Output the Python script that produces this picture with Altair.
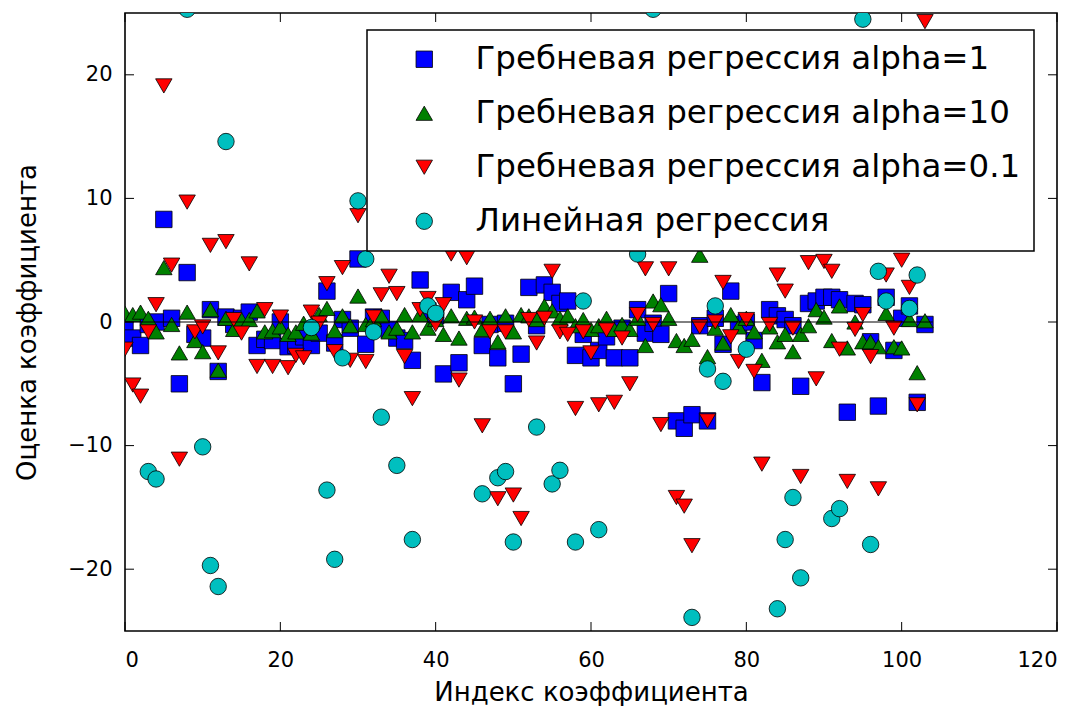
import altair as alt
import pandas as pd

# ---------------- data ----------------
ridge_a1 = [
    -0.5, -1.3, -1.9, -0.2, 0.0, 8.3, 0.3, -5.0, 4.0, -1.0,
    -1.3, 1.0, -4.0, 0.4, -0.2, 0.3, 0.8, -1.9, -1.4, -1.5,
    0.0, -2.0, -1.9, -1.2, -1.9, -0.9, 2.5, -1.7, 0.2, -0.5,
    5.1, -1.8, 0.4, 0.3, -0.6, -1.3, -1.5, -3.1, 3.4, 0.9,
    0.5, -4.2, 2.4, -3.3, 1.8, 2.9, -1.9, -0.2, -2.9, -0.1,
    -5.0, -2.6, 2.8, -0.3, 3.0, 2.4, 1.5, 1.7, -2.7, -1.0,
    -2.9, -2.3, -1.2, -2.9, -0.5, -2.9, 1.0, -0.9, -0.1, -1.0,
    2.3, -8.0, -8.6, -7.5, -0.3, -8.0, 0.3, -1.8, 2.5, -0.2,
    0.0, -1.5, -4.9, 1.0, 0.5, 0.2, -0.3, -5.2, 1.5, 1.7,
    2.0, 2.0, 1.8, -7.3, 1.5, 1.4, -1.6, -6.8, 2.0, -2.3,
    0.3, 1.3, -6.5, -0.2,
]
ridge_a10 = [
    0.7, 0.6, 0.8, 0.3, -0.8, 4.4, -0.2, -2.5, 0.8, -1.5,
    -2.4, 1.0, -3.9, 0.3, -0.6, 0.2, 0.2, 0.9, -0.8, -0.7,
    -0.4, -1.0, -0.8, -0.1, -0.9, 0.6, 1.1, -0.7, 0.5, -0.3,
    2.1, -0.2, 0.2, 0.5, -0.8, -0.5, 0.6, -0.8, 0.6, -0.5,
    0.2, -1.0, 0.5, -1.3, 0.3, 0.4, -0.6, 0.3, -1.6, 0.5,
    -0.8, 0.6, 0.5, 0.2, 1.3, 0.9, 0.3, 0.5, -0.3, 0.2,
    -0.6, -0.3, 0.3, -0.6, -0.2, -0.6, 0.3, -1.9, 1.7, 1.4,
    0.3, -1.5, -1.9, -1.4, 5.4, -2.8, -0.5, -1.7, 0.6, -0.4,
    0.3, -0.8, -3.1, -0.4, -1.6, -1.0, -2.4, -1.0, -0.3, 1.0,
    0.4, -1.5, 1.3, -2.1, 0.0, -1.6, -1.6, -2.0, 0.7, -2.0,
    -2.1, 0.2, -4.1, 0.1,
]
ridge_a01 = [
    -2.2, -5.1, -6.0, -0.8, 1.4, 19.1, 4.6, -11.1, 9.7, -0.8,
    -0.4, 6.2, -2.5, 6.5, 0.2, -0.9, 4.7, -3.6, 1.0, -3.6,
    0.4, -3.7, -2.7, -2.9, 0.8, -0.1, 3.1, -2.4, 4.4, -3.1,
    8.6, -3.2, 0.4, 2.2, 3.7, 2.3, -2.8, -6.2, 1.0, 1.9,
    -0.2, 1.4, 5.5, -4.7, 5.2, 0.0, -8.4, -0.8, -14.3, -0.8,
    -14.0, -15.9, 0.2, -1.7, 0.3, 4.1, -0.8, -1.0, -7.0, -0.8,
    -2.5, -6.7, -0.65, -6.5, -1.3, -5.0, 0.6, 4.3, -0.2, -8.3,
    4.3, -14.2, -14.9, -18.1, -0.4, -8.0, 0.0, 3.2, -1.2, -3.2,
    0.2, -4.0, -11.5, -0.2, 3.8, 2.5, -0.5, -12.5, 4.8, -4.6,
    4.9, 4.1, -2.2, -12.9, -0.6, 0.6, -2.8, -13.5, 3.8, -0.5,
    5.0, 2.8, -6.7, 24.3,
]
# linear regression: only the coefficients that fall inside the visible y range
linear_idx = [3, 4, 8, 10, 11, 12, 13, 24, 26, 27, 28, 30, 31, 32, 33, 35, 37, 39, 40,
              46, 48, 49, 50, 53, 55, 56, 58, 59, 61, 66, 68, 73, 75, 76, 77, 80,
              84, 85, 86, 87, 91, 92, 95, 96, 97, 98, 101, 102]
linear_val = [-12.1, -12.7, 25.3, -10.1, -19.7, -21.4, 14.6, -0.45, -13.6, -19.2, -2.9, 9.8, 5.1,
              -0.8, -7.7, -11.6, -17.6, 1.3, 0.7,
              -13.9, -12.6, -12.1, -17.8, -8.5, -13.1, -12.0, -17.8, 1.7, -16.8, 5.5, 25.3,
              -23.9, -3.8, 1.3, -4.8, -2.2,
              -23.2, -17.6, -14.2, -20.7, -15.9, -15.1, 24.5, -18.0, 4.1, 1.7, 1.1, 3.8]

series_names = ["Гребневая регрессия alpha=1", "Гребневая регрессия alpha=10",
                "Гребневая регрессия alpha=0.1", "Линейная регрессия"]
series_colors = ["#0000ff", "#008000", "#ff0000", "#00bfbf"]
series_shapes = ["square", "triangle-up", "triangle-down", "circle"]

x_ticks = [0, 20, 40, 60, 80, 100, 120]
y_ticks = [-20, -10, 0, 10, 20]
x_domain = [0, 120]
y_domain = [-25, 25]
hline_start = [0]
hline_end = [104]
hline_y = [0]

# ---------------- table ----------------
rows = []
for name, vals in zip(series_names[:3], [ridge_a1, ridge_a10, ridge_a01]):
    for i, v in enumerate(vals):
        rows.append({"idx": i, "val": v, "series": name})
for i, v in zip(linear_idx, linear_val):
    rows.append({"idx": i, "val": v, "series": series_names[3]})
df = pd.DataFrame(rows)

W, H = 932, 618
FONT = "DejaVu Sans"

xs = alt.Scale(domain=x_domain, nice=False, zero=False)
ys = alt.Scale(domain=y_domain, nice=False, zero=False)

points = alt.Chart(df).mark_point(
    filled=True, opacity=1, stroke="black", strokeWidth=0.8, size=270, clip=True
).encode(
    x=alt.X("idx:Q", scale=xs,
            axis=alt.Axis(values=x_ticks, title="Индекс коэффициента",
                          labelPadding=18, titlePadding=9)),
    y=alt.Y("val:Q", scale=ys,
            axis=alt.Axis(values=y_ticks, title="Оценка коэффициента",
                          labelPadding=13, titlePadding=27)),
    color=alt.Color("series:N",
                    scale=alt.Scale(domain=series_names, range=series_colors),
                    legend=alt.Legend(title=None, orient="none", legendX=242, legendY=17,
                                      fillColor="white", strokeColor="black",
                                      padding=13, rowPadding=21, labelFontSize=32.5,
                                      labelFont=FONT, labelColor="black",
                                      symbolSize=270, symbolStrokeColor="black",
                                      symbolStrokeWidth=0.8, symbolOffset=28,
                                      labelOffset=35, labelLimit=900)),
    shape=alt.Shape("series:N",
                    scale=alt.Scale(domain=series_names, range=series_shapes),
                    legend=alt.Legend(title=None)),
)

hdf = pd.DataFrame({"x0": hline_start, "x1": hline_end, "y": hline_y})
hline = alt.Chart(hdf).mark_rule(color="black", strokeWidth=1).encode(
    x=alt.X("x0:Q", scale=xs), x2="x1:Q", y=alt.Y("y:Q", scale=ys)
)

xt = pd.DataFrame({"v": x_ticks})
yt = pd.DataFrame({"v": y_ticks})
TL = 9
xtick_b = alt.Chart(xt).mark_rule(color="black", strokeWidth=1).encode(
    x=alt.X("v:Q", scale=xs), y=alt.value(H), y2=alt.value(H - TL))
xtick_t = alt.Chart(xt).mark_rule(color="black", strokeWidth=1).encode(
    x=alt.X("v:Q", scale=xs), y=alt.value(0), y2=alt.value(TL))
ytick_l = alt.Chart(yt).mark_rule(color="black", strokeWidth=1).encode(
    y=alt.Y("v:Q", scale=ys), x=alt.value(0), x2=alt.value(TL))
ytick_r = alt.Chart(yt).mark_rule(color="black", strokeWidth=1).encode(
    y=alt.Y("v:Q", scale=ys), x=alt.value(W), x2=alt.value(W - TL))

chart = alt.layer(points, hline, xtick_b, xtick_t, ytick_l, ytick_r).properties(
    width=W, height=H,
    autosize=alt.AutoSizeParams(type="none"),
    padding={"left": 117, "top": 5, "right": 20, "bottom": 75},
).configure_view(
    stroke="black", strokeWidth=1.6
).configure_axis(
    grid=False, domain=False, ticks=False, tickSize=0,
    labelFont=FONT, labelFontSize=21, labelColor="black",
    titleFont=FONT, titleFontSize=26, titleColor="black", titleFontWeight="normal",
).configure_legend(
    strokeWidth=1.5, cornerRadius=0
)

chart.save("out.html", embed_options={"renderer": "svg", "actions": False})
